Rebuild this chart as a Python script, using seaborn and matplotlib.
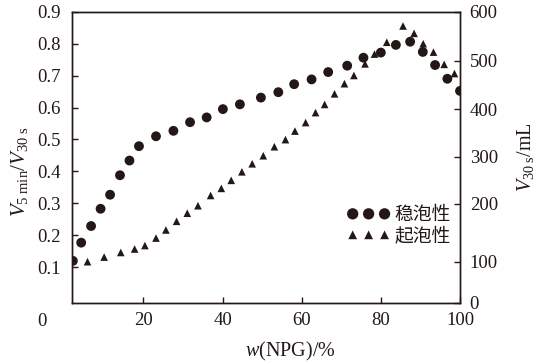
import numpy as np
import pandas as pd
import matplotlib
matplotlib.use("Agg")
import matplotlib.pyplot as plt
import seaborn as sns

# stability: V5min/V30s (left axis)
w_stab = [2.2, 4.3, 6.8, 9.2, 11.6, 14.1, 16.5, 18.9, 23.2, 27.6, 31.8, 36.0, 40.1, 44.4,
          49.7, 54.1, 58.1, 62.5, 66.7, 71.5, 75.6, 80.0, 83.8, 87.4, 90.6, 93.7, 96.8, 100.0]
stab = [0.120, 0.177, 0.229, 0.283, 0.327, 0.388, 0.434, 0.479, 0.510, 0.527, 0.554, 0.569, 0.595, 0.610,
        0.631, 0.648, 0.673, 0.688, 0.711, 0.731, 0.756, 0.772, 0.796, 0.806, 0.774, 0.733, 0.690, 0.652]

# foaming: V30s in mL (right axis)
w_foam = [5.9, 10.1, 14.3, 17.8, 20.4, 23.2, 25.7, 28.4, 31.1, 33.8, 37.0, 39.7, 42.2, 44.9,
          47.5, 50.3, 53.1, 55.9, 58.3, 61.0, 63.5, 65.8, 68.3, 70.8, 73.2, 76.0, 78.4, 81.5,
          85.6, 88.4, 90.7, 93.3, 96.0, 98.6]
foam = [100, 108, 116, 122, 128, 141, 155, 170, 184, 197, 218, 233, 250, 268,
        285, 302, 321, 336, 354, 372, 393, 410, 432, 453, 470, 494, 514, 538,
        571, 556, 535, 518, 493, 474]

left_ticks = [0.1, 0.2, 0.3, 0.4, 0.5, 0.6, 0.7, 0.8, 0.9]
x_ticks = [20, 40, 60, 80, 100]
right_ticks = [0, 100, 200, 300, 400, 500, 600]
# the printed right axis is unevenly spaced; where each tick sits (px above bottom)
right_tick_pos = [0, 41, 98.7, 146, 193.4, 241.7, 291]

ink = "#231815"

sns.set_style("ticks")
plt.rcParams["font.family"] = ["Liberation Serif", "Noto Sans CJK SC"]
plt.rcParams["mathtext.fontset"] = "custom"
plt.rcParams["mathtext.rm"] = "Liberation Serif"
plt.rcParams["mathtext.it"] = "Liberation Serif:italic"
plt.rcParams["axes.edgecolor"] = ink
plt.rcParams["axes.linewidth"] = 1.0

df_s = pd.DataFrame({"w": w_stab, "v": stab})
df_f = pd.DataFrame({"w": w_foam, "v": foam})

fig = plt.figure(figsize=(5.41, 3.64), dpi=100)
ax = fig.add_axes([0.1325, 0.1684, 0.7178, 0.7995])
ax2 = ax.twinx()

sns.scatterplot(data=df_s, x="w", y="v", ax=ax, marker="o", s=50, color=ink,
                edgecolor="none", label="稳泡性", legend=False)
sns.scatterplot(data=df_f, x="w", y="v", ax=ax2, marker="^", s=30, color=ink,
                edgecolor="none", label="起泡性", legend=False)

ax.set_xlim(1.9, 100)
ax.set_ylim(-0.011, 0.9)
ax.set_xticks(x_ticks)
ax.set_yticks(left_ticks)
ax.set_yticklabels([f"{t:.1f}" for t in left_ticks])

fwd = lambda v: np.interp(v, right_ticks, right_tick_pos)
inv = lambda p: np.interp(p, right_tick_pos, right_ticks)
ax2.set_yscale("function", functions=(fwd, inv))
ax2.set_ylim(0, 600)
ax2.set_yticks(right_ticks)
ax2.set_yticklabels([str(t) for t in right_ticks])
ax2.yaxis.set_minor_locator(matplotlib.ticker.NullLocator())

for a in (ax, ax2):
    a.tick_params(direction="in", length=4.5, width=1.0, color=ink,
                  labelsize=13.5, labelcolor=ink, pad=7)
    for sp in a.spines.values():
        sp.set_visible(True)
        sp.set_color(ink)
ax.tick_params(axis="y", pad=8)

ax.set_xlabel(r"$\mathit{w}$(NPG)/%", fontsize=14.5, color=ink)
ax.xaxis.set_label_coords(0.562, -0.128)
ax.set_ylabel(r"$V_{\rm 5\ min}/V_{\rm 30\ s}$", fontsize=15, color=ink)
ax.yaxis.set_label_coords(-0.108, 0.45)
ax2.set_ylabel(r"$V_{\rm 30\ s}$/mL", fontsize=14.5, color=ink)
ax2.yaxis.set_label_coords(1.142, 0.5)

# origin label printed left of the axis corner
ax.text(-0.076, -0.063, "0", transform=ax.transAxes, ha="center", va="center",
        fontsize=13.5, color=ink)

h1, l1 = ax.get_legend_handles_labels()
h2, l2 = ax2.get_legend_handles_labels()
leg = ax2.legend(h1 + h2, l1 + l2, loc="upper left", bbox_to_anchor=(0.685, 0.37),
                 frameon=False, scatterpoints=3, scatteryoffsets=[0.5],
                 handlelength=2.3, handletextpad=0.25, labelspacing=0.0,
                 borderpad=0, markerscale=1.15,
                 prop={"family": ["Noto Sans CJK SC"], "size": 13.5})
for t in leg.get_texts():
    t.set_color(ink)

fig.savefig("out.png", dpi=100)
